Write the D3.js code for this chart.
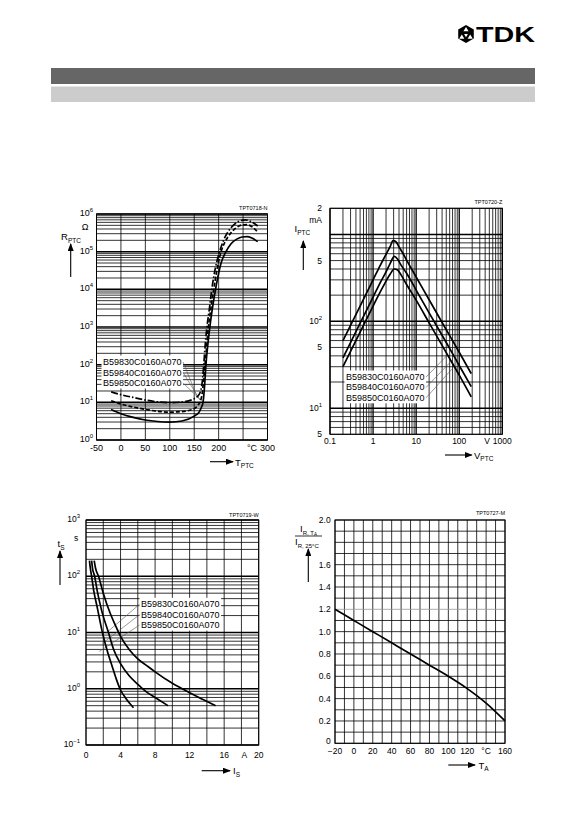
<!DOCTYPE html>
<html lang="en">
<head>
<meta charset="UTF-8">
<title>PTC characteristics</title>
<script src="https://d3js.org/d3.v7.min.js"></script>
<style>
  body { margin: 0; background: #fff; }
  svg { display: block; }
  text { font-family: Arial, "Liberation Sans", sans-serif; fill: #000; }
</style>
</head>
<body>
<svg id="page" width="583" height="826"></svg>
<script>
// ---------- data ----------
const products = ['B59830C0160A070', 'B59840C0160A070', 'B59850C0160A070'];

// R_PTC (ohm) vs T_PTC (degC)
const rDashDot = [[-20,19],[0,16],[25,13.5],[50,11.5],[75,10.3],[100,9.8],[125,10.2],[150,12.5],[158,15],[163,20],[167,40],[170,120],[173,400],[176,1000],[181,3000],[186,10000],[193,35000],[202,100000],[210,200000],[220,350000],[232,530000],[245,670000],[255,700000],[267,620000],[280,480000]];
const rDashed = [[-20,11],[0,9],[25,7.5],[50,6.5],[75,5.8],[100,5.5],[125,5.7],[150,6.8],[158,8.5],[163,11],[167,20],[171,70],[175,250],[179,1000],[184,3000],[190,10000],[196,30000],[205,100000],[212,170000],[222,280000],[235,420000],[248,510000],[258,520000],[270,440000],[280,330000]];
const rSolid = [[-20,6.5],[0,5],[25,4],[50,3.4],[75,3.1],[100,3.0],[125,3.2],[150,4.3],[160,5.5],[165,7.5],[168,10],[171,25],[174,100],[178,350],[182,1000],[187,3000],[193,9000],[198,20000],[205,50000],[215,100000],[225,160000],[237,215000],[248,245000],[258,250000],[268,230000],[280,185000]];
const rLeaderEnds = [[155,15],[162,11.5],[168,10]];
const rXTicks = [-50,0,50,100,150,200,300];
const rYExp = [0,1,2,3,4,5,6];

// I_PTC (mA) vs V_PTC (V)
const iCurveA = [[0.2,60],[0.5,150],[1,300],[1.5,450],[2,590],[2.5,730],[2.9,850],[3.4,825],[4,720],[5,600],[6,505],[10,324],[20,177],[50,80],[100,44],[190,25]];
const iCurveB = [[0.2,38],[0.5,95],[1,190],[1.5,285],[2,370],[2.5,465],[3.1,560],[3.7,520],[4.5,440],[6,357],[10,229],[20,125],[50,57],[100,31],[190,17.7]];
const iCurveC = [[0.2,30],[0.5,75],[1,150],[1.5,222],[2,290],[2.5,350],[3.1,400],[3.7,390],[4.5,340],[6,265],[10,175],[20,96],[50,43.5],[100,24],[190,13.5]];
const iLeaderEnds = [[51,40],[59,33],[67,28]];
const vXTicks = [0.1, 1, 10, 100, 1000];
const vXTickText = ['0.1', '1', '10', '100', '1000'];
const iYTicks = [2000, 500, 100, 50, 10, 5];

// t_S (s) vs I_S (A)
const tCurve1 = [[0.4,190],[0.5,140],[0.65,100],[0.9,55],[1.3,28],[1.9,10],[2.5,4.5],[3,2.6],[3.5,1.5],[4,0.95],[4.6,0.68],[5.5,0.46]];
const tCurve2 = [[0.65,190],[0.75,140],[1.0,100],[1.3,55],[1.8,25],[2.6,10],[3.2,5],[4,2.8],[5,1.7],[6,1.2],[7,0.88],[8,0.7],[9.5,0.5]];
const tCurve3 = [[0.95,190],[1.1,140],[1.45,100],[2,50],[2.8,22],[3.5,12.5],[4,8.5],[5,5],[6,3.4],[7,2.6],[8,2.0],[10,1.25],[12,0.85],[13.5,0.65],[15,0.5]];
const tLeaderEnds = [[2.3,9.7],[1.9,6.4],[1.55,4.6]];
const sXTicks = [0,4,8,12,16,20];
const tYExp = [-1,0,1,2,3];

// I_R,TA / I_R,25degC vs T_A
const ratioCurve = [[-20,1.2],[0,1.1],[20,1.0],[40,0.9],[60,0.8],[80,0.7],[100,0.6],[120,0.49],[140,0.36],[160,0.2]];
const taXTicks = [-20,0,20,40,60,80,100,120,160];
const ratioYTicks = [0,0.2,0.4,0.6,0.8,1.0,1.2,1.4,1.6,2.0];

// ---------- helpers ----------
const page = d3.select('#page');

page.append('defs').append('marker')
  .attr('id', 'arr').attr('markerUnits', 'userSpaceOnUse')
  .attr('markerWidth', 8).attr('markerHeight', 6)
  .attr('refX', 7).attr('refY', 3).attr('orient', 'auto')
  .append('path').attr('d', 'M0,0 L8,3 L0,6 Z').attr('fill', '#000');

function logSteps(lo, hi) {
  const v = [];
  for (let e = Math.floor(Math.log10(lo)); e <= Math.ceil(Math.log10(hi)); e++) {
    for (let k = 1; k < 10; k++) {
      const t = k * Math.pow(10, e);
      if (t >= lo * 0.999 && t <= hi * 1.001) v.push(t);
    }
  }
  return v;
}
const isDecade = d => Math.abs(Math.log10(d) - Math.round(Math.log10(d))) < 1e-9;

function grid(g, x, y, xs, ys, majX, majY, special) {
  const [yb, yt] = y.range(), [xl, xr] = x.range();
  g.append('g').selectAll('line').data(xs).join('line')
    .attr('x1', d => x(d)).attr('x2', d => x(d)).attr('y1', yb).attr('y2', yt)
    .attr('stroke', '#000').attr('stroke-width', d => majX(d) ? 1.3 : 0.8);
  g.append('g').selectAll('line').data(ys).join('line')
    .attr('y1', d => y(d)).attr('y2', d => y(d)).attr('x1', xl).attr('x2', xr)
    .attr('stroke', d => special && special(d) ? '#999' : '#000')
    .attr('stroke-width', d => majY(d) ? 1.5 : 0.8);
  g.append('rect').attr('x', xl).attr('y', yt).attr('width', xr - xl).attr('height', yb - yt)
    .attr('fill', 'none').attr('stroke', '#000').attr('stroke-width', 1);
}

function supText(sel, base, exp) {
  sel.text(base);
  sel.append('tspan').attr('font-size', 6).attr('dy', -4).text(exp);
}
function subText(sel, base, sub, size) {
  sel.text(base);
  sel.append('tspan').attr('font-size', size || 6.5).attr('dy', 2.5).text(sub);
}

function drawCurves(g, x, y, curves, dashes) {
  const line = d3.line().x(d => x(d[0])).y(d => y(d[1])).curve(d3.curveMonotoneX);
  g.append('g').selectAll('path').data(curves).join('path')
    .attr('d', line).attr('fill', 'none').attr('stroke', '#000')
    .attr('stroke-width', 1.7).attr('stroke-linejoin', 'round')
    .attr('stroke-dasharray', (d, i) => dashes ? dashes[i] : null);
}

// product labels with white box and thin leader lines
function productLabels(g, x, y, tx, ty, step, ends, fromLeft) {
  const lg = g.append('g');
  const box = lg.append('rect').attr('fill', '#fff');
  const texts = lg.selectAll('text').data(products).join('text')
    .attr('x', tx).attr('y', (d, i) => ty + i * step)
    .attr('font-size', 9).text(d => d);
  const bb = lg.node().getBBox();
  box.attr('x', bb.x - 1.5).attr('y', bb.y - 1.5).attr('width', bb.width + 3).attr('height', bb.height + 2);
  texts.each(function (d, i) {
    const b = this.getBBox();
    const sx = fromLeft ? b.x - 1.5 : b.x + b.width + 1.5;
    lg.append('line')
      .attr('x1', sx).attr('y1', b.y + b.height / 2)
      .attr('x2', x(ends[i][0])).attr('y2', y(ends[i][1]))
      .attr('stroke', '#555').attr('stroke-width', 0.6);
  });
}

function arrowUp(g, ax, y1, y2) {
  g.append('line').attr('x1', ax).attr('x2', ax).attr('y1', y1).attr('y2', y2)
    .attr('stroke', '#000').attr('stroke-width', 1.1).attr('marker-end', 'url(#arr)');
}
function arrowRight(g, x1, x2, ay) {
  g.append('line').attr('x1', x1).attr('x2', x2).attr('y1', ay).attr('y2', ay)
    .attr('stroke', '#000').attr('stroke-width', 1.1).attr('marker-end', 'url(#arr)');
}
function code(g, xr, yy, t) {
  g.append('text').attr('x', xr).attr('y', yy).attr('text-anchor', 'end')
    .attr('font-size', 5.5).attr('fill', '#222').text(t);
}

// ---------- header ----------
const head = page.append('g');
head.append('rect').attr('x', 51).attr('y', 68).attr('width', 484).attr('height', 16).attr('fill', '#666');
head.append('rect').attr('x', 51).attr('y', 86.5).attr('width', 484).attr('height', 15.5).attr('fill', '#ccc');
const logo = head.append('g').attr('transform', 'translate(466,34)');
logo.append('path').attr('d', d3.range(6).map((i) => {
  const a = Math.PI / 6 + i * Math.PI / 3;
  return (i ? 'L' : 'M') + (9 * Math.cos(a)).toFixed(2) + ',' + (9 * Math.sin(a)).toFixed(2);
}).join('') + 'Z').attr('fill', '#000');
[[0, -4.5], [-4.2, 3], [4.2, 3]].forEach(p => {
  logo.append('path').attr('d', `M${p[0]},${p[1] - 2.6}L${p[0] + 2.6},${p[1] + 1.8}L${p[0] - 2.6},${p[1] + 1.8}Z`).attr('fill', '#fff');
});
logo.append('path').attr('d', 'M0,3.2L-1.9,0L1.9,0Z').attr('fill', '#fff');
head.append('text').attr('x', 476).attr('y', 42).attr('font-family', '"DejaVu Sans", sans-serif')
  .attr('font-weight', 'bold').attr('font-size', 22).attr('textLength', 59)
  .attr('lengthAdjust', 'spacingAndGlyphs').text('TDK');

// ---------- panel 1: R_PTC vs T_PTC ----------
{
  const g = page.append('g');
  const x = d3.scaleLinear([-50, 300], [96.5, 267.5]);
  const y = d3.scaleLog([1, 1e6], [440, 214]);
  grid(g, x, y, d3.range(-50, 301, 50), logSteps(1, 1e6), () => false, isDecade);
  code(g, 267.5, 210, 'TPT0718-N');
  productLabels(g, x, y, 103, 365, 10.5, rLeaderEnds, false);
  drawCurves(g, x, y, [rDashDot, rDashed, rSolid], ['7,2,1.5,2', '4,2', null]);
  g.append('g').selectAll('text').data(rYExp).join('text')
    .attr('x', 93).attr('y', d => y(Math.pow(10, d)) + 2).attr('text-anchor', 'end')
    .attr('font-size', 9).each(function (d) { supText(d3.select(this), '10', d); });
  g.append('g').selectAll('text').data(rXTicks).join('text')
    .attr('x', d => x(d)).attr('y', 450.5).attr('text-anchor', 'middle')
    .attr('font-size', 9).text(d => d);
  g.append('text').attr('x', x(300) - 10.5).attr('y', 450.5).attr('text-anchor', 'end').attr('font-size', 9).text('°C');
  g.append('text').attr('x', 85).attr('y', 230).attr('text-anchor', 'middle').attr('font-size', 9).text('Ω');
  subText(g.append('text').attr('x', 61).attr('y', 240).attr('font-size', 9.5), 'R', 'PTC');
  arrowUp(g, 70.7, 277, 244);
  arrowRight(g, 210, 233, 461.7);
  subText(g.append('text').attr('x', 235).attr('y', 465.5).attr('font-size', 9.5), 'T', 'PTC');
}

// ---------- panel 2: I_PTC vs V_PTC ----------
{
  const g = page.append('g');
  const x = d3.scaleLog([0.1, 1000], [330, 502.3]);
  const y = d3.scaleLog([5, 2000], [434.3, 208.3]);
  grid(g, x, y, logSteps(0.1, 1000), logSteps(5, 2000), isDecade, isDecade);
  code(g, 502.3, 203.5, 'TPT0720-Z');
  productLabels(g, x, y, 346, 380, 10.4, iLeaderEnds, false);
  drawCurves(g, x, y, [iCurveA, iCurveB, iCurveC]);
  g.append('g').selectAll('text').data(iYTicks).join('text')
    .attr('x', 322).attr('y', d => y(d) + 3).attr('text-anchor', 'end')
    .attr('font-size', 8.5)
    .each(function (d) {
      const s = d3.select(this);
      if (isDecade(d)) supText(s, '10', Math.round(Math.log10(d)));
      else s.text(String(d)[0]);
    });
  g.append('g').selectAll('text').data(vXTicks).join('text')
    .attr('x', d => x(d)).attr('y', 444.3).attr('text-anchor', 'middle')
    .attr('font-size', 8.5).text((d, i) => vXTickText[i]);
  g.append('text').attr('x', x(1000) - 12.5).attr('y', 444.3).attr('text-anchor', 'end').attr('font-size', 8.5).text('V');
  g.append('text').attr('x', 322).attr('y', 223).attr('text-anchor', 'end').attr('font-size', 8.5).text('mA');
  subText(g.append('text').attr('x', 294.5).attr('y', 232).attr('font-size', 9.5), 'I', 'PTC');
  arrowUp(g, 303.3, 270, 241);
  arrowRight(g, 445, 471.7, 455);
  subText(g.append('text').attr('x', 474).attr('y', 458.5).attr('font-size', 9.5), 'V', 'PTC');
}

// ---------- panel 3: t_S vs I_S ----------
{
  const g = page.append('g');
  const x = d3.scaleLinear([0, 20], [86, 258.7]);
  const y = d3.scaleLog([0.1, 1000], [745, 520]);
  grid(g, x, y, d3.range(0, 21, 2), logSteps(0.1, 1000), () => false, isDecade);
  code(g, 258.7, 517, 'TPT0719-W');
  productLabels(g, x, y, 141, 607.3, 10.4, tLeaderEnds, true);
  drawCurves(g, x, y, [tCurve1, tCurve2, tCurve3]);
  g.append('g').selectAll('text').data(tYExp).join('text')
    .attr('x', 80).attr('y', d => y(Math.pow(10, d)) + 2).attr('text-anchor', 'end')
    .attr('font-size', 8.5).each(function (d) { supText(d3.select(this), '10', d < 0 ? '\u22121' : d); });
  g.append('g').selectAll('text').data(sXTicks).join('text')
    .attr('x', d => x(d)).attr('y', 757.5).attr('text-anchor', 'middle')
    .attr('font-size', 8.5).text(d => d);
  g.append('text').attr('x', x(18) + 3).attr('y', 757.5).attr('text-anchor', 'middle').attr('font-size', 8.5).text('A');
  g.append('text').attr('x', 76).attr('y', 541).attr('text-anchor', 'middle').attr('font-size', 8.5).text('s');
  subText(g.append('text').attr('x', 57.5).attr('y', 547).attr('font-size', 9.5), 't', 'S');
  arrowUp(g, 60, 585, 551);
  arrowRight(g, 201.7, 230, 770.7);
  subText(g.append('text').attr('x', 233).attr('y', 774).attr('font-size', 9.5), 'I', 'S');
}

// ---------- panel 4: I_R,TA / I_R,25 vs T_A ----------
{
  const g = page.append('g');
  const x = d3.scaleLinear([-20, 160], [335, 505]);
  const y = d3.scaleLinear([0, 2], [743.3, 520]);
  grid(g, x, y, d3.range(-20, 161, 10), d3.range(0, 2.05, 0.1), () => false, () => false,
    d => Math.abs(d - 1.2) < 1e-6);
  code(g, 505, 515, 'TPT0727-M');
  drawCurves(g, x, y, [ratioCurve]);
  g.append('g').selectAll('text').data(ratioYTicks).join('text')
    .attr('x', 330.7).attr('y', d => y(d) + (d === 0 ? 1 : 3)).attr('text-anchor', 'end')
    .attr('font-size', 8.5).text(d => d === 0 ? '0' : d.toFixed(1));
  g.append('g').selectAll('text').data(taXTicks).join('text')
    .attr('x', d => x(d)).attr('y', 753.5).attr('text-anchor', 'middle')
    .attr('font-size', 8.5).text(d => d < 0 ? '\u2212' + (-d) : d);
  g.append('text').attr('x', x(140)).attr('y', 753.5).attr('text-anchor', 'middle').attr('font-size', 8.5).text('°C');
  const num = g.append('text').attr('x', 300).attr('y', 532).attr('font-size', 9.5).text('I');
  num.append('tspan').attr('font-size', 6).attr('dy', 2.5).text('R, T');
  num.append('tspan').attr('font-size', 4.5).attr('dy', 1.5).text('A');
  g.append('line').attr('x1', 295).attr('x2', 322).attr('y1', 536).attr('y2', 536)
    .attr('stroke', '#000').attr('stroke-width', 0.8);
  subText(g.append('text').attr('x', 295).attr('y', 545).attr('font-size', 9.5), 'I', 'R, 25°C', 6);
  arrowUp(g, 308.3, 582, 549);
  arrowRight(g, 448.3, 475, 765);
  subText(g.append('text').attr('x', 478.5).attr('y', 768.5).attr('font-size', 9.5), 'T', 'A');
}
</script>
</body>
</html>
